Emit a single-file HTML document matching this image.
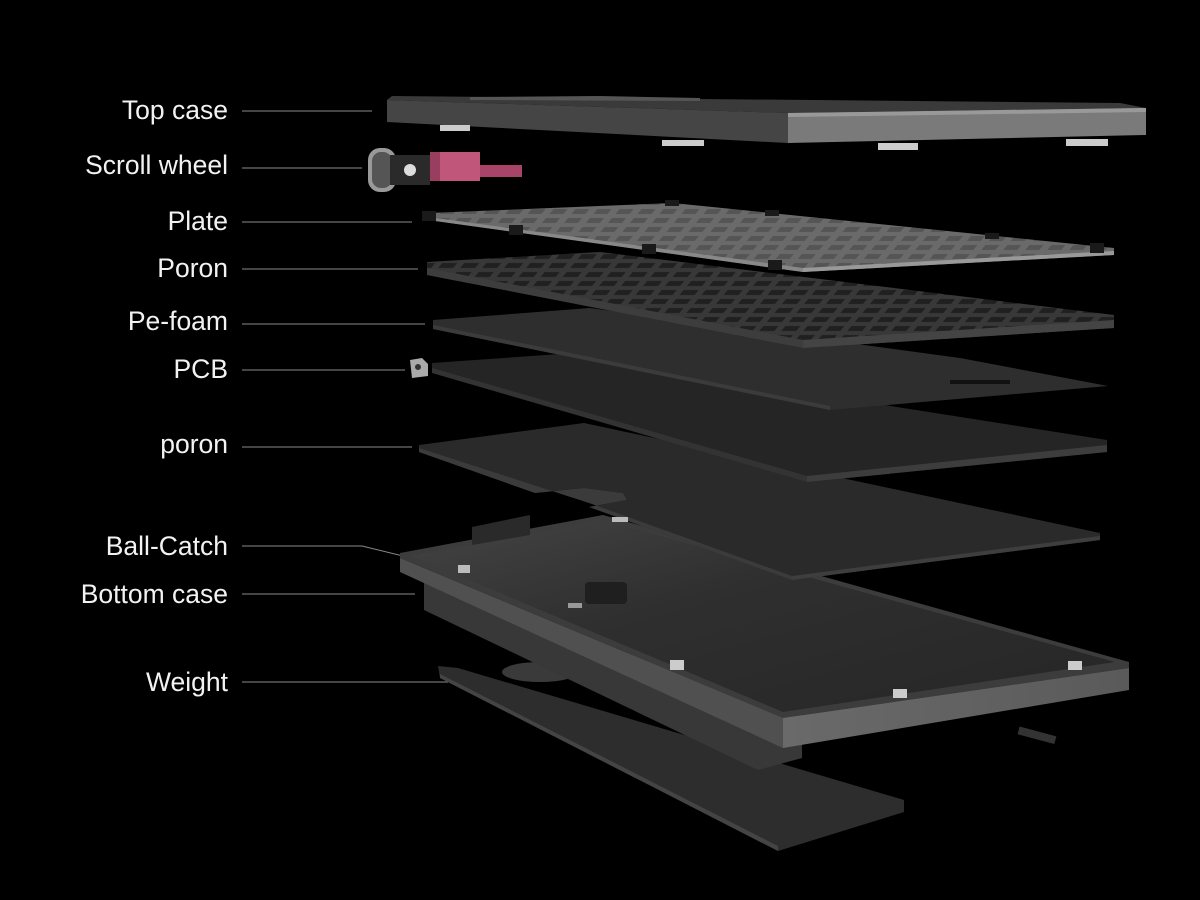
<!DOCTYPE html>
<html><head><meta charset="utf-8"><style>
html,body{margin:0;padding:0;background:#000;}
svg{display:block}
text{font-family:"Liberation Sans",sans-serif;font-size:26.5px;fill:#f2f2f2;text-anchor:end;dominant-baseline:central}
</style></head><body>
<svg width="1200" height="900" viewBox="0 0 1200 900" xmlns="http://www.w3.org/2000/svg">
<defs>
<linearGradient id="fr" x1="0" x2="1" y1="0" y2="0"><stop offset="0" stop-color="#6a6a6a"/><stop offset="1" stop-color="#5a5a5a"/></linearGradient>
<linearGradient id="tray" x1="0" x2="1" y1="0" y2="1"><stop offset="0" stop-color="#444"/><stop offset="0.4" stop-color="#2f2f2f"/><stop offset="1" stop-color="#262626"/></linearGradient>
<pattern id="grid" width="22" height="9" patternUnits="userSpaceOnUse" patternTransform="skewX(-40)"><rect width="22" height="9" fill="#6a6a6a"/><rect x="3" y="2" width="14" height="5" fill="#555"/></pattern>
<pattern id="grid2" width="22" height="9" patternUnits="userSpaceOnUse" patternTransform="skewX(-40)"><rect width="22" height="9" fill="#383838"/><rect x="3" y="2" width="15" height="5" fill="#202020"/></pattern>
</defs>
<g stroke="#8a8a8a" stroke-width="1" fill="none">
<line x1="242" y1="111" x2="372" y2="111"/>
<line x1="242" y1="168" x2="362" y2="168"/>
<line x1="242" y1="222" x2="412" y2="222"/>
<line x1="242" y1="269" x2="418" y2="269"/>
<line x1="242" y1="324" x2="425" y2="324"/>
<line x1="242" y1="370" x2="405" y2="370"/>
<line x1="242" y1="447" x2="412" y2="447"/>
<polyline points="242,546 362,546 460,570"/>
<line x1="242" y1="594" x2="415" y2="594"/>
<line x1="242" y1="682" x2="448" y2="682"/>
</g>
<text x="228" y="110">Top case</text>
<text x="228" y="165">Scroll wheel</text>
<text x="228" y="221">Plate</text>
<text x="228" y="268">Poron</text>
<text x="228" y="321">Pe-foam</text>
<text x="228" y="369">PCB</text>
<text x="228" y="444">poron</text>
<text x="228" y="546">Ball-Catch</text>
<text x="228" y="594">Bottom case</text>
<text x="228" y="682">Weight</text>

<polygon points="438,666 458,668 904,800 904,812 778,851 440,678" fill="#2d2d2d"/>
<polygon points="440,678 778,851 778,846 440,674" fill="#444"/>
<ellipse cx="540" cy="672" rx="38" ry="10" fill="#3a3a3a"/>
<rect x="1018" y="731" width="38" height="8" fill="#333" transform="rotate(15 1036 735)"/>

<polygon points="424,580 758,700 802,700 802,758 758,770 424,610" fill="#383838"/>
<polygon points="400,553 603,515 1129,662 1129,668 783,718 400,558" fill="#3c3c3c"/>
<polygon points="412,556 603,520 1115,662 783,712" fill="url(#tray)"/>
<polygon points="472,527 530,515 530,535 472,545" fill="#2a2a2a"/>
<polygon points="400,558 783,718 783,748 400,572" fill="#505050"/>
<polygon points="783,718 1129,668 1129,690 783,748" fill="url(#fr)"/>
<rect x="458" y="565" width="12" height="8" fill="#bbb"/>
<rect x="670" y="660" width="14" height="10" fill="#ccc"/>
<rect x="893" y="689" width="14" height="9" fill="#ccc"/>
<rect x="1068" y="661" width="14" height="9" fill="#ccc"/>
<rect x="585" y="582" width="42" height="22" rx="4" fill="#1f1f1f"/>
<rect x="568" y="603" width="14" height="5" fill="#999"/>

<polygon points="419,445 584,423 1100,533 1100,540 792,580 589,507 627,500 623,493 584,488 535,493 419,452" fill="#2a2a2a"/>
<polygon points="419,452 535,493 584,488 623,493 627,500 589,507 792,580 792,576 589,503 419,448" fill="#3b3b3b"/>
<polygon points="792,576 1100,536 1100,540 792,580" fill="#3e3e3e"/>
<rect x="612" y="517" width="16" height="5" fill="#bbb"/>

<polygon points="432,363 560,354 1107,440 1107,452 807,482 432,372" fill="#252525"/>
<polygon points="807,476 1107,445 1107,452 807,482" fill="#3d3d3d"/>
<polygon points="432,368 807,476 807,482 432,373" fill="#333"/>
<path d="M410,360 l12,-2 6,6 0,12 -16,2 z" fill="#aaa"/>
<circle cx="418" cy="367" r="3" fill="#333"/>

<polygon points="433,320 590,308 960,358 1108,386 830,410 433,329" fill="#2e2e2e"/>
<polygon points="433,325 830,406 830,410 433,329" fill="#3b3b3b"/>
<rect x="950" y="380" width="60" height="4" fill="#111"/>

<polygon points="427,262 600,252 1114,315 1114,328 803,348 427,275" fill="url(#grid2)"/>
<polygon points="427,268 803,340 803,348 427,275" fill="#3d3d3d"/>
<polygon points="803,340 1114,320 1114,328 803,348" fill="#444"/>

<polygon points="428,213 673,203 1114,248 1114,255 803,272 428,220" fill="url(#grid)"/>
<polygon points="428,217 803,268 803,272 428,220" fill="#888"/>
<polygon points="803,268 1114,251 1114,255 803,272" fill="#999"/>
<g fill="#1a1a1a">
<rect x="422" y="211" width="14" height="10"/><rect x="509" y="225" width="14" height="10"/><rect x="642" y="244" width="14" height="10"/><rect x="768" y="260" width="14" height="10"/>
<rect x="665" y="200" width="14" height="6"/><rect x="765" y="210" width="14" height="6"/><rect x="985" y="233" width="14" height="6"/><rect x="1090" y="243" width="14" height="10"/>
</g>

<rect x="368" y="148" width="28" height="44" rx="12" fill="#999"/>
<rect x="372" y="152" width="20" height="36" rx="9" fill="#555"/>
<rect x="390" y="155" width="40" height="30" fill="#2a2a2a"/>
<circle cx="410" cy="170" r="6" fill="#ddd"/>
<rect x="430" y="152" width="50" height="29" fill="#c0567a"/>
<rect x="480" y="165" width="42" height="12" fill="#a84468"/>
<rect x="430" y="152" width="10" height="29" fill="#9a3e60"/>

<polygon points="392,96 1120,103 1146,108 788,113 387,100" fill="#3a3a3a"/>
<polygon points="470,97 600,96 700,98 700,101 470,100" fill="#555"/>
<polygon points="387,100 788,113 788,143 387,122" fill="#454545"/>
<polygon points="788,113 1146,108 1146,135 788,143" fill="#7a7a7a"/>
<polygon points="788,113 1146,108 1146,112 788,117" fill="#999"/>
<g fill="#ccc">
<rect x="440" y="125" width="30" height="6"/><rect x="662" y="140" width="42" height="6"/>
<rect x="878" y="143" width="40" height="7"/><rect x="1066" y="139" width="42" height="7"/>
</g>
</svg>
</body></html>
